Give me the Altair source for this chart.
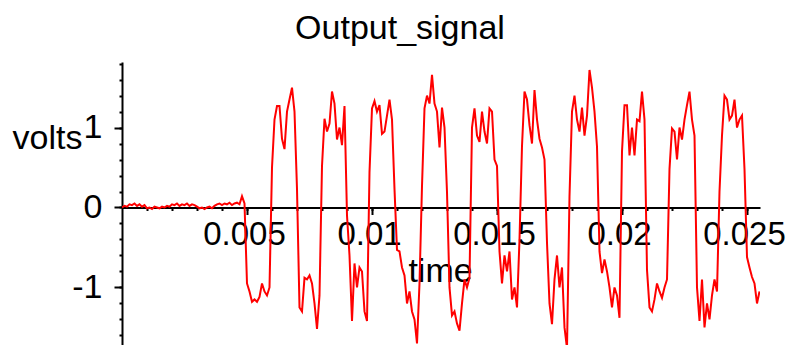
import altair as alt
import pandas as pd

# Output signal samples (volts), every 0.0001 s
volts = [
    0.0, 0.02, 0.01, 0.04, 0.03, 0.05, 0.02, 0.04, 0.01, 0.03,
    -0.01, 0.0, -0.02, 0.01, 0.0, -0.01, 0.01, 0.0, 0.02, 0.01,
    0.04, 0.03, 0.05, 0.02, 0.04, 0.03, 0.05, 0.02, 0.04, 0.03,
    0.01, -0.01, 0.0, -0.02, 0.0, 0.01, -0.01, 0.02, 0.04, 0.05,
    0.03, 0.05, 0.04, 0.06, 0.03, 0.05, 0.06, 0.04, 0.14, 0.05,
    -0.95, -1.05, -1.18, -1.15, -1.18, -1.12, -0.95, -1.05, -1.1, -1.0,
    0.5, 1.1, 1.27, 1.27, 0.86, 0.73, 1.2, 1.35, 1.5, 1.2,
    0.23, -1.25, -1.3, -0.88, -0.9, -0.85, -0.95, -1.2, -1.52, -1.1,
    0.52, 1.11, 0.95, 1.05, 1.45, 1.3, 0.85, 1.0, 0.78, 1.27,
    -0.1, -0.6, -1.42, -0.7, -1.0, -0.75, -0.8, -1.3, -1.42, 0.44,
    1.24, 1.33, 1.2, 1.28, 0.92, 0.95, 1.15, 1.35, 1.1, 0.23,
    -0.53, -0.55, -0.75, -0.85, -1.2, -1.05, -1.3, -1.4, -1.7, -0.95,
    0.27, 1.24, 1.4, 1.3, 1.66, 1.3, 1.2, 0.75, 1.25, 1.0,
    0.19, -1.0, -1.35, -1.3, -1.45, -1.54, -1.2, -0.9, -1.0, -0.88,
    1.0, 1.24, 0.9, 0.82, 1.2, 0.95, 0.8, 1.24, 1.2, 0.6,
    0.52, -0.55, -0.95, -0.6, -0.8, -0.55, -1.15, -1.0, -1.25, -0.4,
    0.77, 1.45, 1.35, 1.03, 0.8, 1.47, 1.1, 0.86, 0.75, 0.6,
    -0.44, -1.2, -1.46, -0.9, -0.6, -1.0, -0.75, -1.5, -1.76, 0.14,
    1.2, 1.4, 1.1, 0.95, 1.25, 0.9, 1.15, 1.72, 1.5, 1.2,
    0.76, -0.55, -0.82, -0.65, -0.8, -1.0, -1.25, -1.0, -1.1, -1.38,
    0.7, 1.28, 1.28, 0.65, 1.0, 0.65, 1.1, 1.08, 1.45, 1.1,
    -0.78, -1.25, -1.3, -1.15, -0.95, -1.05, -1.13, -1.0, -0.9, 0.48,
    0.99, 0.95, 0.6, 1.0, 0.85, 1.1, 1.28, 1.45, 1.1, 0.9,
    -1.0, -1.42, -0.9, -1.5, -1.2, -1.4, -1.1, -0.9, -1.05, 0.2,
    0.9, 1.4, 1.35, 1.1, 1.15, 1.35, 1.0, 1.1, 1.15, 0.48,
    -0.62, -0.75, -0.87, -0.95, -1.2, -1.05,
]
sample_step = 0.0001
time = [round(i * sample_step, 4) for i in range(len(volts))]

minor_x = [round(0.001 * i, 3) for i in range(1, 26)]
major_x = [0.005, 0.01, 0.015, 0.02, 0.025]
minor_y = [round(0.2 * i, 1) for i in range(-8, 10)]
major_y = [-1, 0, 1]

df = pd.DataFrame({"time": time, "volts": volts})

FONT = "Liberation Sans"
FS = 34
XMAX = 0.02552
YMIN, YMAX = -1.72, 1.82
W, H = 638, 283
y0 = YMAX / (YMAX - YMIN) * H
xoff = y0 - H

xs = alt.Scale(domain=[0, XMAX], nice=False, zero=False)
ys = alt.Scale(domain=[YMIN, YMAX], nice=False, zero=False)

base = alt.Chart(df)

line = base.mark_line(color="#ff0000", strokeWidth=2, clip=True).encode(
    x=alt.X("time:Q", scale=xs, axis=alt.Axis(
        orient="bottom", offset=xoff, values=minor_x, labels=False,
        tickSize=3, tickWidth=2, tickColor="black",
        domainColor="black", domainWidth=2, grid=False,
        title="time", titleFont=FONT, titleFontSize=FS, titleFontWeight="normal",
        titleColor="black", titleX=318, titleY=74, titleAlign="center",
        titleBaseline="alphabetic", titleAngle=0)),
    y=alt.Y("volts:Q", scale=ys, axis=alt.Axis(
        orient="left", values=minor_y, labels=False,
        tickSize=3, tickWidth=2, tickColor="black",
        domainColor="black", domainWidth=2, grid=False,
        title="volts", titleFont=FONT, titleFontSize=FS, titleFontWeight="normal",
        titleColor="black", titleX=-110, titleY=86, titleAlign="left",
        titleBaseline="alphabetic", titleAngle=0)),
)

marks = base.mark_line(opacity=0).encode(
    x=alt.X("time:Q", scale=xs, axis=alt.Axis(
        orient="bottom", offset=xoff, values=major_x, format="~g",
        tickSize=7, tickWidth=2, tickColor="black", domain=False, grid=False,
        labelFont=FONT, labelFontSize=33, labelColor="black", labelPadding=4,
        labelOffset=-3, labelFlush=False, labelOverlap=False, title=None)),
    y=alt.Y("volts:Q", scale=ys, axis=alt.Axis(
        orient="left", values=major_y,
        labelExpr="datum.value < 0 ? '-' + abs(datum.value) : '' + datum.value",
        tickSize=8, tickWidth=2, tickColor="black", domain=False, grid=False,
        labelFont=FONT, labelFontSize=FS, labelColor="black", labelPadding=12,
        labelOverlap=False, title=None)),
)

chart = alt.layer(line, marks).resolve_axis(
    x="independent", y="independent"
).properties(
    width=W, height=H,
    title=alt.TitleParams("Output_signal", font=FONT, fontSize=FS,
                          fontWeight="normal", color="black", anchor="middle",
                          frame="group", dx=-41, dy=35, offset=24,
                          baseline="alphabetic"),
    padding={"left": 122, "top": 62, "right": 28, "bottom": 0},
    autosize=alt.AutoSizeParams(type="none"),
).configure_view(stroke=None)

chart.save("out.html", embed_options={"renderer": "svg", "actions": False})
